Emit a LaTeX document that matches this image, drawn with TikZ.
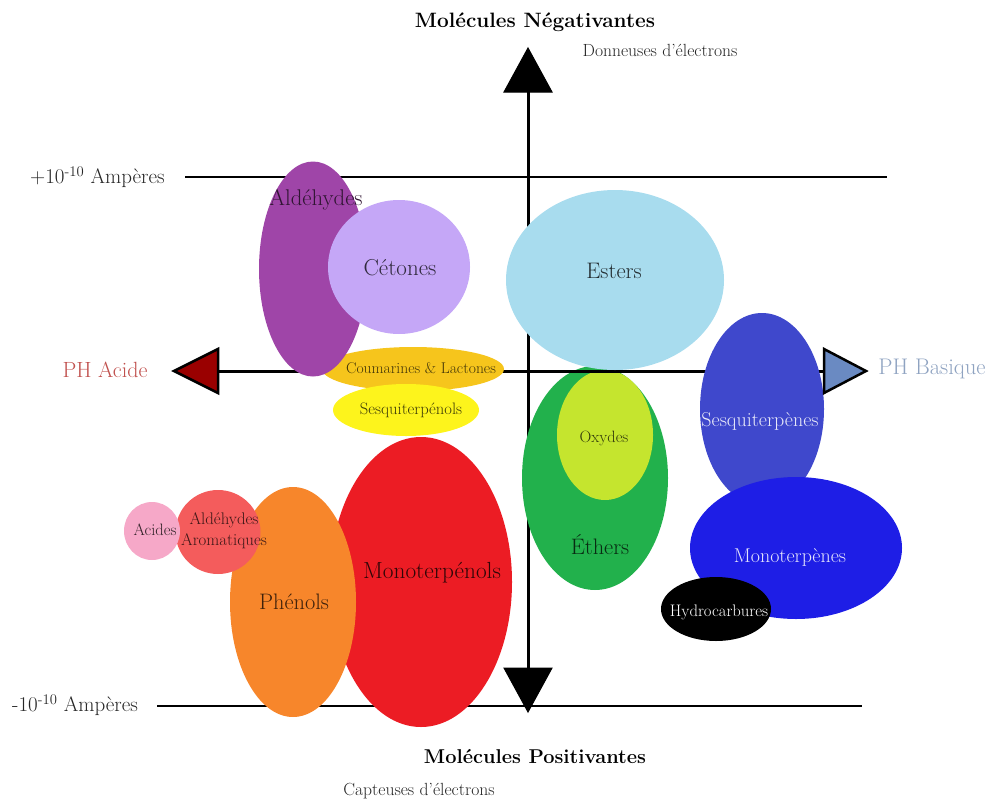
\documentclass[tikz,border=0pt]{standalone}
\usepackage{fontspec}
\usetikzlibrary{shapes.geometric}
\newcommand\fsz[1]{\fontsize{#1pt}{#1pt}\selectfont}
\definecolor{cAld}{HTML}{9F45A8}
\definecolor{cCet}{HTML}{C5A7F7}
\definecolor{cEst}{HTML}{A8DCEE}
\definecolor{cCou}{HTML}{F6C51C}
\definecolor{cSqo}{HTML}{FDF41C}
\definecolor{cMto}{HTML}{EC1C24}
\definecolor{cPhe}{HTML}{F7862B}
\definecolor{cAar}{HTML}{F45C5C}
\definecolor{cAci}{HTML}{F6A8C8}
\definecolor{cEth}{HTML}{22B14C}
\definecolor{cOxy}{HTML}{C5E52E}
\definecolor{cSqe}{HTML}{3F48CC}
\definecolor{cMte}{HTML}{1E1EE6}
\definecolor{cAcidTxt}{HTML}{C0504D}
\definecolor{cAcidTip}{HTML}{9A0000}
\definecolor{cBasTxt}{HTML}{8FA3C1}
\definecolor{cBasTip}{HTML}{6A8AC2}
\begin{document}
\begin{tikzpicture}[x=1pt,y=-1pt,
  blob/.style={ellipse, inner sep=0pt, draw=none},
  lbl/.style={inner sep=0pt, align=center},
  thinline/.style={line width=1.3pt, black},
  axisline/.style={line width=3pt, black},
  tipblack/.style={fill=black, draw=black, line width=1pt, line join=miter},
  tipcol/.style={draw=black, line width=2.5pt, line join=miter}]
\useasboundingbox (0,0) rectangle (987,803);
% reference lines
\coordinate (tlA) at (185,177); \coordinate (tlB) at (887,177);
\coordinate (blA) at (157,706); \coordinate (blB) at (862,706);
\draw[thinline] (tlA) -- (tlB);
\draw[thinline] (blA) -- (blB);
% vertical axis
\coordinate (vT) at (528,92); \coordinate (vB) at (528,668);
\draw[axisline] (vT) -- (vB);
% ethers and oxydes
\node[blob, fill=cEth, minimum width=146, minimum height=224] (eth) at (595,478) {};
\node[blob, fill=cOxy, minimum width=96, minimum height=130] (oxy) at (605,435) {};
% horizontal axis
\coordinate (hL) at (218,371); \coordinate (hR) at (823,371);
\draw[axisline] (hL) -- (hR);
% blobs
\node[blob, fill=cEst, minimum width=218, minimum height=180] (est) at (615,280) {};
\node[blob, fill=cCou, minimum width=182, minimum height=44] (cou) at (413,369) {};
\node[blob, fill=cSqo, minimum width=146, minimum height=52] (sqo) at (406,410) {};
\node[blob, fill=cAld, minimum width=108, minimum height=215] (ald) at (313,269) {};
\node[blob, fill=cCet, minimum width=142, minimum height=134] (cet) at (399,267) {};
\node[blob, fill=cMto, minimum width=182, minimum height=290] (mto) at (421,582) {};
\node[blob, fill=cPhe, minimum width=126, minimum height=230] (phe) at (293,602) {};
\node[blob, fill=cAar, minimum width=85, minimum height=84] (aar) at (218,532) {};
\node[blob, fill=cAci, minimum width=56, minimum height=58] (aci) at (152,531) {};
\node[blob, fill=cSqe, minimum width=124, minimum height=192] (sqe) at (762,409) {};
\node[blob, fill=cMte, minimum width=212, minimum height=142] (mte) at (796,548) {};
\node[blob, fill=black, minimum width=110, minimum height=64] (hyd) at (716,609) {};
% arrow heads
\coordinate (tTip) at (528,48); \coordinate (tL) at (504,92); \coordinate (tR) at (552,92);
\filldraw[tipblack] (tTip) -- (tL) -- (tR) -- cycle;
\coordinate (bTip) at (528,712); \coordinate (bL) at (504,668); \coordinate (bR) at (552,668);
\filldraw[tipblack] (bTip) -- (bL) -- (bR) -- cycle;
\coordinate (lTip) at (174,371); \coordinate (lU) at (218,349); \coordinate (lD) at (218,393);
\filldraw[tipcol, fill=cAcidTip] (lTip) -- (lU) -- (lD) -- cycle;
\coordinate (rTip) at (866,371); \coordinate (rU) at (824,349); \coordinate (rD) at (824,393);
\filldraw[tipcol, fill=cBasTip] (rTip) -- (rU) -- (rD) -- cycle;
% blob labels
\node[lbl, font=\fsz{22.7}, text=black!70!cAld] (tAld) at (316,200) {Aldéhydes};
\node[lbl, font=\fsz{23}, text=black!75!cCet] (tCet) at (400,268) {Cétones};
\node[lbl, font=\fsz{22.5}, text=black!80!cEst] (tEst) at (614,271) {Esters};
\node[lbl, font=\fsz{15.6}, text=black!72!cCou] (tCou) at (421,368) {Coumarines \& Lactones};
\node[lbl, font=\fsz{16.6}, text=black!75!cSqo] (tSqo) at (411,410) {Sesquiterpénols};
\node[lbl, font=\fsz{23.3}, text=black!80!cMto] (tMto) at (432,573) {Monoterpénols};
\node[lbl, font=\fsz{22.4}, text=black!75!cPhe] (tPhe) at (294,602) {Phénols};
\node[lbl, font=\fsz{16.5}, text=black!80!cAci] (tAci) at (155,530) {Acides};
\node[lbl, font=\fontsize{16.8pt}{21pt}\selectfont, text=black!75!cAar] (tAar) at (224,531) {Aldéhydes\\Aromatiques};
\node[lbl, font=\fsz{16.4}, text=black!75!cOxy] (tOxy) at (604,438) {Oxydes};
\node[lbl, font=\fsz{22.4}, text=black!75!cEth] (tEth) at (600,545) {Éthers};
\node[lbl, font=\fsz{20}, text=white!88!cSqe] (tSqe) at (760,421) {Sesquiterpènes};
\node[lbl, font=\fsz{20}, text=white!88!cMte] (tMte) at (790,557) {Monoterpènes};
\node[lbl, font=\fsz{16.7}, text=white] (tHyd) at (719,612) {Hydrocarbures};
% axis labels
\node[lbl, font=\bfseries\fsz{20.8}] (tNeg) at (535,22) {Molécules Négativantes};
\node[lbl, font=\fsz{17.6}, text=black!85] (tDon) at (660,50) {Donneuses d'électrons};
\node[lbl, font=\bfseries\fsz{20}] (tPos) at (535,757) {Molécules Positivantes};
\node[lbl, font=\fsz{17.6}, text=black!85] (tCap) at (419,791) {Capteuses d'électrons};
\node[lbl, font=\fsz{22}, text=cAcidTxt] (tAcid) at (105,370) {PH Acide};
\node[lbl, font=\fsz{22.6}, text=cBasTxt] (tBas) at (932,369) {PH Basique};
\node[lbl, font=\fsz{21}, anchor=west, text=black!85] (tPlus) at (30,177) {+10\textsuperscript{-10} Ampères};
\node[lbl, font=\fsz{21}, anchor=west, text=black!85] (tMinus) at (12,705) {-10\textsuperscript{-10} Ampères};
\end{tikzpicture}
\end{document}
